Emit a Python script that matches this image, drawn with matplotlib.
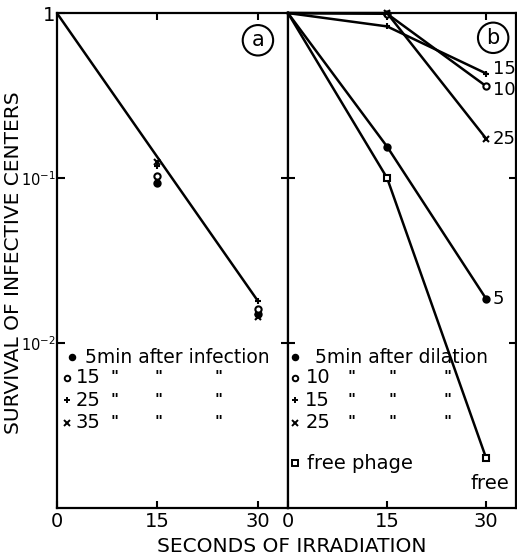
import numpy as np
import matplotlib
matplotlib.use("Agg")
import matplotlib.pyplot as plt

plt.rcParams['font.family'] = ['DejaVu Sans']

# seconds of irradiation
times = [0, 15, 30]

# panel a: minutes after infection -> survival at 15 s and 30 s
a_labels = ['5', '15', '25', '35']
a_markers = ['o', 'o', '+', 'x']
a_filled = [True, False, True, True]
a_s15 = [0.093, 0.103, 0.118, 0.125]
a_s30 = [0.0150, 0.0160, 0.0180, 0.0144]
a_fit = [1.0, 0.134, 0.018]

# panel b: minutes after dilution (and free phage)
b_labels = ['5', '10', '15', '25', 'free']
b_markers = ['o', 'o', '+', 'x', 's']
b_filled = [True, False, True, True, False]
b_survival = [
    [1.0, 0.155, 0.0185],
    [1.0, 0.99, 0.36],
    [1.0, 0.83, 0.43],
    [1.0, 1.0, 0.173],
    [1.0, 0.10, 0.0020],
]
b_end_text = ['5', '10', '15', '25', 'free']
b_text_shift = [1.0, 0.95, 1.06, 1.0, 0.8]


def mk(f):
    return 'black' if f else 'white'


fig = plt.figure(figsize=(5.17, 5.58), dpi=100)
ax_a = fig.add_axes([0.110, 0.0896, 0.447, 0.887])
ax_b = fig.add_axes([0.557, 0.0896, 0.441, 0.887])

for ax in (ax_a, ax_b):
    ax.set_yscale('log')
    ax.set_ylim(1e-3, 1)
    ax.set_xlim(0, 34.5)
    ax.set_xticks(times)
    ax.set_xticklabels(['0', '15', '30'], fontsize=14)
    ax.minorticks_off()
    for s in ax.spines.values():
        s.set_linewidth(1.6)
    ax.tick_params(axis='x', direction='in', length=5, width=1.5, top=True, pad=3)

# ---- panel a
ax_a.plot(times, a_fit, color='black', linewidth=1.8)
for m, f, y15, y30 in zip(a_markers, a_filled, a_s15, a_s30):
    ax_a.plot([15, 30], [y15, y30], linestyle='none', marker=m, markersize=4.5,
              markerfacecolor=mk(f), markeredgecolor='black', markeredgewidth=1.5)
ax_a.set_yticks([1, 0.1, 0.01])
ax_a.set_yticklabels(['1', r'$10^{-1}$', r'$10^{-2}$'], fontsize=10.5)
ax_a.get_yticklabels()[0].set_fontsize(14)
ax_a.tick_params(axis='y', direction='in', length=6, width=1.5, right=False, pad=1)
ax_a.text(0.87, 0.945, 'a', transform=ax_a.transAxes, fontsize=15, ha='center', va='center',
          bbox=dict(boxstyle='circle,pad=0.25', facecolor='white', edgecolor='black', linewidth=1.5))

rows_a = [0.305, 0.263, 0.218, 0.172]
for lab, m, f, yy in zip(a_labels, a_markers, a_filled, rows_a):
    ax_a.plot(0.065 if lab == '5' else 0.045, yy, transform=ax_a.transAxes,
              marker=m, markersize=4, markerfacecolor=mk(f), markeredgecolor='black',
              markeredgewidth=1.4, linestyle='none')
    if lab == '5':
        ax_a.text(0.12, yy, '5min after infection', transform=ax_a.transAxes,
                  fontsize=13.5, va='center')
    else:
        ax_a.text(0.19, yy, lab, transform=ax_a.transAxes, fontsize=14,
                  va='center', ha='right')
        for xx in (0.25, 0.44, 0.70):
            ax_a.text(xx, yy, '"', transform=ax_a.transAxes, fontsize=11,
                      va='center', ha='center', fontweight='bold')

# ---- panel b
for m, f, ys, txt, sh in zip(b_markers, b_filled, b_survival, b_end_text, b_text_shift):
    ax_b.plot(times, ys, color='black', linewidth=1.8, marker=m, markersize=4.5,
              markerfacecolor=mk(f), markeredgecolor='black',
              markeredgewidth=1.5, clip_on=False, markevery=[1, 2])
    if txt == 'free':
        ax_b.text(30.5, ys[2] * sh, txt, fontsize=14, ha='center', va='top')
    else:
        ax_b.text(31.0, ys[2] * sh, txt, fontsize=13, va='center')

ax_b.set_yticks([0.1, 0.01])
ax_b.set_yticklabels([])
ax_b.tick_params(axis='y', direction='inout', length=10, width=1.5, right=True)
ax_b.text(0.90, 0.95, 'b', transform=ax_b.transAxes, fontsize=15, ha='center', va='center',
          bbox=dict(boxstyle='circle,pad=0.25', facecolor='white', edgecolor='black', linewidth=1.5))

rows_b = [0.305, 0.263, 0.218, 0.172, 0.09]
b_leg_text = ['5min after dilation', '10', '15', '25', 'free phage']
for m, f, yy, txt in zip(b_markers, b_filled, rows_b, b_leg_text):
    ax_b.plot(0.03, yy, transform=ax_b.transAxes, marker=m, markersize=4,
              markerfacecolor=mk(f), markeredgecolor='black',
              markeredgewidth=1.4, linestyle='none')
    if txt in ('10', '15', '25'):
        ax_b.text(0.185, yy, txt, transform=ax_b.transAxes, fontsize=14,
                  va='center', ha='right')
        for xx in (0.28, 0.46, 0.70):
            ax_b.text(xx, yy, '"', transform=ax_b.transAxes, fontsize=11,
                      va='center', ha='center', fontweight='bold')
    elif txt == 'free phage':
        ax_b.text(0.083, yy, txt, transform=ax_b.transAxes, fontsize=14, va='center')
    else:
        ax_b.text(0.12, yy, txt, transform=ax_b.transAxes, fontsize=13.5, va='center')

fig.text(0.027, 0.53, 'SURVIVAL OF INFECTIVE CENTERS', fontsize=14.5,
         rotation=90, ha='center', va='center')
fig.text(0.565, 0.003, 'SECONDS OF IRRADIATION', fontsize=14.5, ha='center', va='bottom')

fig.savefig('out.png', dpi=100)
